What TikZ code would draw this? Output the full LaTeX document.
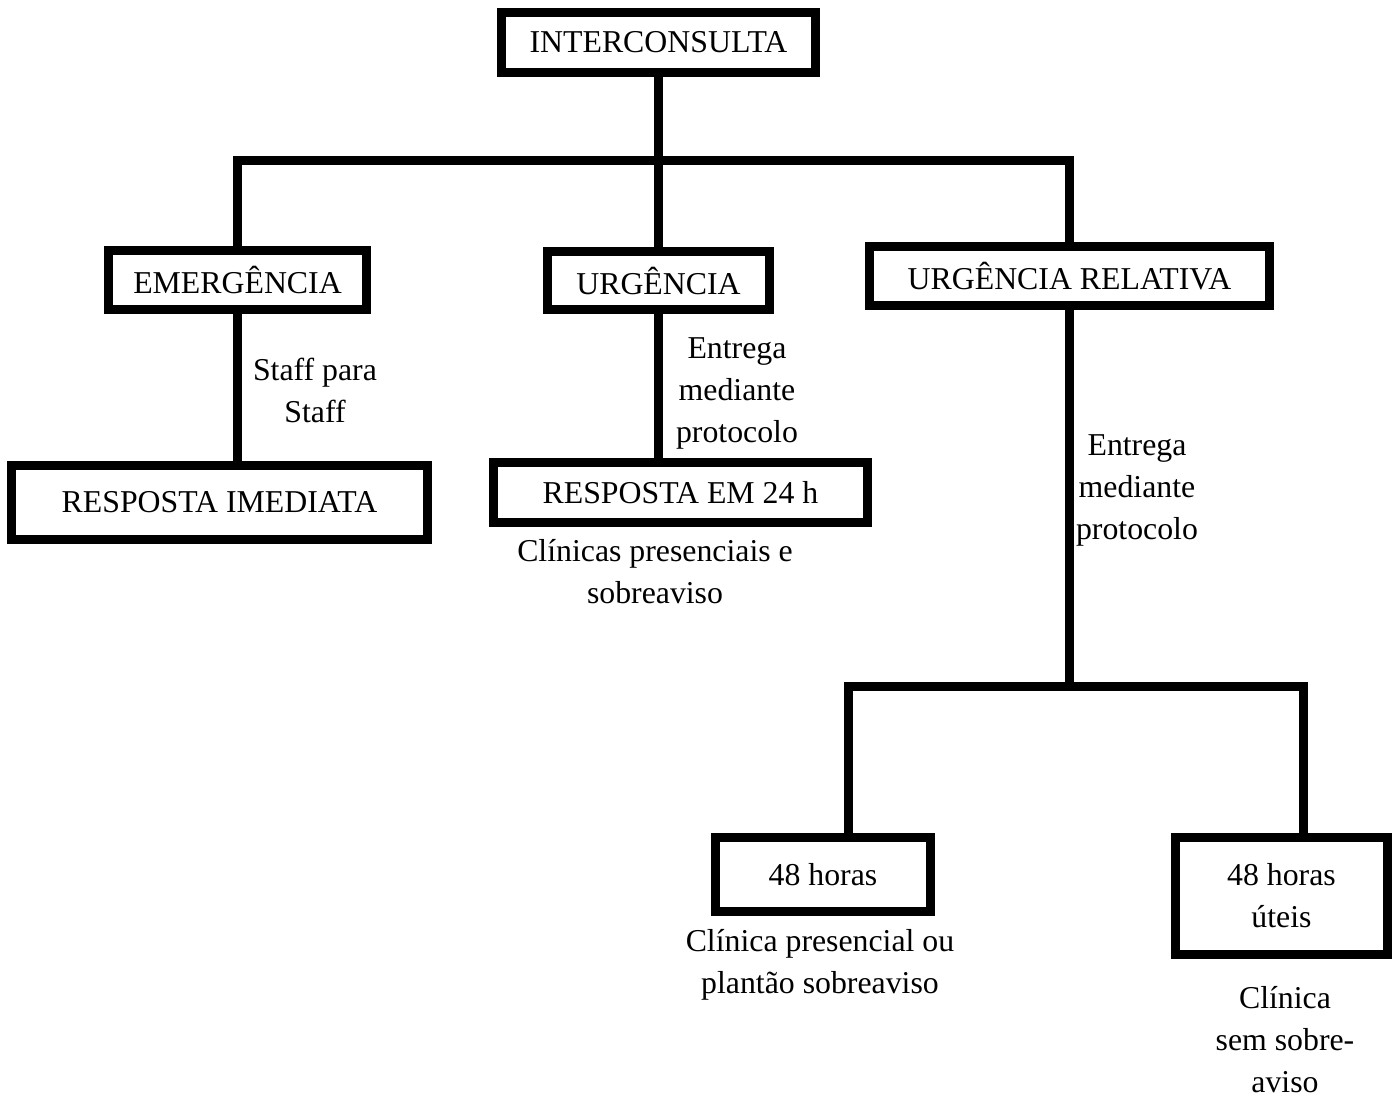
\documentclass[tikz,border=0pt]{standalone}
\usepackage{fontspec}
\setmainfont{Liberation Serif}
\begin{document}
\begin{tikzpicture}[x=1pt,y=-1pt,line width=9pt,line join=miter,
        font=\fontsize{31.8}{42}\selectfont,
        box/.style={draw,inner sep=0pt,align=center},
        note/.style={align=center,inner sep=0pt}]
        % fix the page size
        \useasboundingbox (0,0) rectangle (1398,1101);

        % draw the boxes
        \foreach \name/\x/\y/\w/\h/\txt in {
            top/658.5/42.5/314/60/INTERCONSULTA,
            emerg/237.5/280/258/59/EMERGÊNCIA,
            urg/658.5/280.5/222/58/URGÊNCIA,
            rel/1069.5/276/400/59/URGÊNCIA RELATIVA,
            imed/219.5/502.5/416/74/RESPOSTA IMEDIATA,
            resp24/680.5/492.5/374/60/RESPOSTA EM 24 h,
            h48/823/874.5/215/74/48 horas,
            h48u/1281.5/896/212/117/48 horas\\úteis}
                \node[box,minimum width=\w pt,minimum height=\h pt] (\name) at (\x,\y) {\txt};

        % draw the notes beside the lines
        \foreach \name/\x/\y/\txt in {
            staff/315/390/Staff para\\Staff,
            entrega/737/393/Entrega\\mediante\\protocolo,
            clinicas/655/571.5/Clínicas presenciais e\\sobreaviso,
            entregarel/1137/490/Entrega\\mediante\\protocolo,
            presencial/820/964.5/Clínica presencial ou\\plantão sobreaviso,
            semsobre/1285/1040/Clínica\\sem sobre-\\aviso}
                \node[note] (\name) at (\x,\y) {\txt};

        % draw the connectors
        \coordinate (barL) at (237.5,160);
        \coordinate (barR) at (1069.5,160);
        \coordinate (forkL) at (848,686);
        \coordinate (forkR) at (1303,686);
        \draw (top) -- (urg);
        \draw (emerg) -- (barL) -- (barR) -- (rel);
        \draw (emerg) -- (emerg.south |- imed.north);
        \draw (urg) -- (urg.south |- resp24.north);
        \draw (rel) -- (rel.south |- forkL);
        \draw (forkL |- h48.north) -- (forkL) -- (forkR) -- (forkR |- h48u.north);
\end{tikzpicture}
\end{document}
